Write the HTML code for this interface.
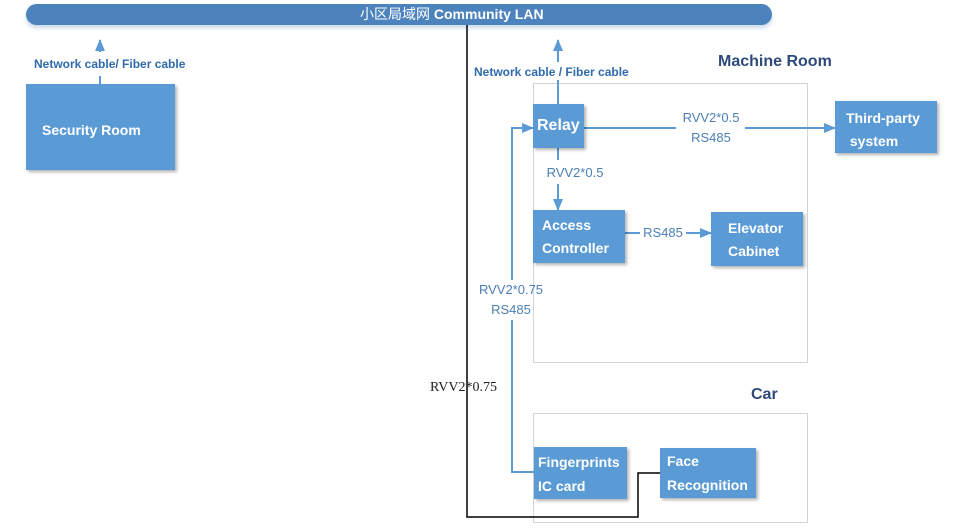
<!DOCTYPE html>
<html><head><meta charset="utf-8"><style>
body{margin:0;width:963px;height:532px;background:#fff;position:relative;overflow:hidden;font-family:"Liberation Sans","Noto Sans CJK SC",sans-serif}
.b{position:absolute;background:#5b9bd5;color:#fff;font-weight:bold;font-size:14px;box-shadow:2px 2px 3px rgba(0,0,0,.3);box-sizing:border-box}
.t{position:absolute;color:#2f6bad;font-size:12px;white-space:nowrap}
.l{position:absolute;color:#4a7fb5;font-size:13px;text-align:center;white-space:nowrap;line-height:20px}
</style></head><body>
<div style="position:absolute;left:26px;top:4px;width:746px;height:21px;background:#4d83bd;border-radius:11px;box-shadow:0 3px 4px rgba(80,130,190,.3);color:#fff;font-size:14px;line-height:21px;text-align:center;"><span style="position:absolute;left:334px;">小区局域网 <b>Community LAN</b></span></div>
<svg width="963" height="532" style="position:absolute;left:0;top:0">
<defs><marker id="a" markerWidth="12" markerHeight="10" refX="11" refY="5" orient="auto" markerUnits="userSpaceOnUse"><path d="M0,0L12,5L0,10z" fill="#5b9bd5"/></marker></defs>
<rect x="533.5" y="83.5" width="274" height="279" fill="none" stroke="#d0d5da"/>
<rect x="533.5" y="413.5" width="274" height="109" fill="none" stroke="#d0d5da"/>
<g stroke="#5b9bd5" stroke-width="2" fill="none">
<line x1="100" y1="84" x2="100" y2="76"/>
<line x1="100" y1="52" x2="100" y2="40" marker-end="url(#a)"/>
<line x1="558" y1="104" x2="558" y2="80"/>
<line x1="558" y1="62" x2="558" y2="40" marker-end="url(#a)"/>
<line x1="584" y1="128" x2="676" y2="128"/>
<line x1="745" y1="128" x2="835" y2="128" marker-end="url(#a)"/>
<line x1="558" y1="148" x2="558" y2="160"/>
<line x1="558" y1="184" x2="558" y2="210" marker-end="url(#a)"/>
<line x1="625" y1="233" x2="640" y2="233"/>
<line x1="686" y1="233" x2="711" y2="233" marker-end="url(#a)"/>
<polyline points="534,472 512,472 512,320"/>
<polyline points="512,280 512,128 533,128" marker-end="url(#a)"/>
</g>
<polyline points="467,25 467,517 638,517 638,473 660,473" stroke="#000" stroke-width="1.5" fill="none"/>
</svg>
<div class="t" style="left:34px;top:57px;font-weight:bold;">Network cable/ Fiber cable</div>
<div class="t" style="left:474px;top:65px;font-weight:bold;">Network cable / Fiber cable</div>
<div style="position:absolute;left:718px;top:53px;color:#2e4a7a;font-weight:bold;font-size:16px;">Machine Room</div>
<div style="position:absolute;left:751px;top:386px;color:#2e4a7a;font-weight:bold;font-size:16px;">Car</div>
<div class="b" style="left:26px;top:84px;width:149px;height:86px;padding:38px 0 0 16px;font-size:14px;">Security Room</div>
<div class="b" style="left:533px;top:104px;width:51px;height:44px;padding:13px 0 0 4px;font-size:16px;">Relay</div>
<div class="b" style="left:835px;top:101px;width:102px;height:52px;padding:6px 0 0 11px;line-height:23px;">Third-party<br>&nbsp;system</div>
<div class="b" style="left:533px;top:210px;width:92px;height:53px;padding:4px 0 0 9px;line-height:23px;">Access<br>Controller</div>
<div class="b" style="left:711px;top:212px;width:92px;height:54px;padding:5px 0 0 17px;line-height:23px;">Elevator<br>Cabinet</div>
<div class="b" style="left:534px;top:447px;width:93px;height:52px;padding:3px 0 0 4px;line-height:24px;">Fingerprints<br>IC card</div>
<div class="b" style="left:660px;top:448px;width:96px;height:50px;padding:1px 0 0 7px;line-height:24px;">Face<br>Recognition</div>
<div class="l" style="left:671px;top:108px;width:80px;">RVV2*0.5<br>RS485</div>
<div class="l" style="left:535px;top:163px;width:80px;">RVV2*0.5</div>
<div class="l" style="left:640px;top:223px;width:46px;">RS485</div>
<div class="l" style="left:466px;top:280px;width:90px;">RVV2*0.75<br>RS485</div>
<div style="position:absolute;left:430px;top:380px;font-family:'Liberation Serif',serif;font-size:14px;color:#222;">RVV2*0.75</div>
</body></html>
